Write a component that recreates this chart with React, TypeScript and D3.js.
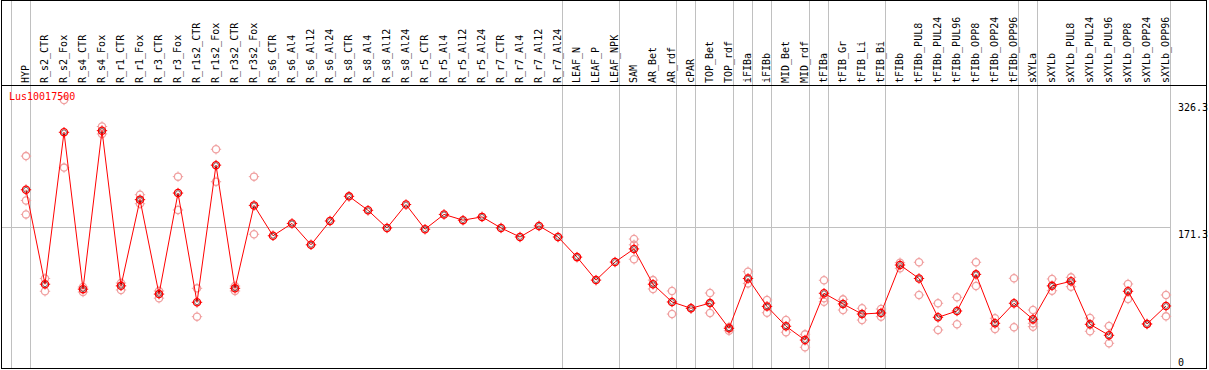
import React from "react";
import * as d3 from "d3";

const categories = [
  "HYP", "R_s2_CTR", "R_s2_Fox", "R_s4_CTR", "R_s4_Fox", "R_r1_CTR", "R_r1_Fox", "R_r3_CTR", "R_r3_Fox",
  "R_r1s2_CTR", "R_r1s2_Fox", "R_r3s2_CTR", "R_r3s2_Fox", "R_s6_CTR", "R_s6_Al4", "R_s6_Al12", "R_s6_Al24",
  "R_s8_CTR", "R_s8_Al4", "R_s8_Al12", "R_s8_Al24", "R_r5_CTR", "R_r5_Al4", "R_r5_Al12", "R_r5_Al24",
  "R_r7_CTR", "R_r7_Al4", "R_r7_Al12", "R_r7_Al24", "LEAF_N", "LEAF_P", "LEAF_NPK", "SAM", "AR_Bet", "AR_rdf",
  "cPAR", "TOP_Bet", "TOP_rdf", "iFIBa", "iFIBb", "MID_Bet", "MID_rdf", "tFIBa", "tFIB_Gr", "tFIB_Li", "tFIB_Bi",
  "tFIBb", "tFIBb_PUL8", "tFIBb_PUL24", "tFIBb_PUL96", "tFIBb_OPP8", "tFIBb_OPP24", "tFIBb_OPP96",
  "sXYLa", "sXYLb", "sXYLb_PUL8", "sXYLb_PUL24", "sXYLb_PUL96", "sXYLb_OPP8", "sXYLb_OPP24", "sXYLb_OPP96",
];

const means = [
  217, 102, 287, 96, 289, 100, 205, 90, 213,
  80, 247, 97, 198, 161, 176, 150, 179,
  209, 192, 170.5, 199, 169, 187, 180, 184,
  170.5, 159.5, 173, 159.5, 135, 107, 129, 145, 102, 80.4,
  72.7, 79, 48.3, 109, 75, 50.8, 34, 91, 78, 65.7, 67,
  125.4, 109, 61.7, 69.4, 114, 54.4, 78.8,
  59.3, 100, 105.6, 53.2, 39.8, 93.4, 53.6, 75.5,
];

const reps: number[][] = [
  [258, 204, 187], [109, 93.4], [326.3, 244], [98.6, 92.5], [294, 285], [103.5, 95], [211, 200], [93.8, 85], [233, 192.4],
  [97, 62.5], [266.3, 226.8], [99.8, 93.8], [233, 162.8], [], [], [], [],
  [], [], [], [], [], [], [], [],
  [], [], [], [], [], [], [], [157, 150, 132.4], [107, 96.2], [93.8, 65.7],
  [72.7], [91.3, 67], [45.4, 49.9], [117.3, 103], [82.8, 67.3], [58.4, 43.5], [41, 25.2], [106.8, 84.9, 80.7], [83.6, 70.6], [72.7, 58.4], [71.8, 62.5],
  [128.2, 121.4], [128.7, 88.9], [78.8, 46.3], [86.1, 53.2], [128.7, 99.8], [60.5, 47.5], [109.2, 49.6],
  [70.6, 54.4, 50.3], [108.4, 94.1], [110.4, 99], [60.9, 44.7], [51.1, 30.1], [102.3, 84], [53.6], [88.9, 62.9],
];

// group separators: index of first category of each group (plus end)
const groupBoundaries = [0, 1, 29, 32, 35, 36, 38, 39, 40, 42, 43, 46, 53, 54, 61];

const yTicks = [326.3, 171.3, 0];
const geneLabel = "Lus10017500";

const FONT = "'DejaVu Sans Mono', monospace";

function Marker({ x, y, color, inner }: { x: number; y: number; color: string; inner?: boolean }) {
  const r = 3.6;
  const t = 1.6;
  return (
    <g>
      <circle cx={x} cy={y} r={r} fill="none" stroke={color} strokeWidth={1.3} />
      {inner && <circle cx={x} cy={y} r={2.4} fill="none" stroke="#300000" strokeWidth={0.6} />}
      <line x1={x} y1={y - r} x2={x} y2={y - r - t} stroke={color} strokeWidth={1} />
      <line x1={x} y1={y + r} x2={x} y2={y + r + t} stroke={color} strokeWidth={1} />
      <line x1={x - r} y1={y} x2={x - r - t} y2={y} stroke={color} strokeWidth={1} />
      <line x1={x + r} y1={y} x2={x + r + t} y2={y} stroke={color} strokeWidth={1} />
    </g>
  );
}

export default function App() {
  const W = 1209, H = 370;
  const x = d3.scaleLinear().domain([0, categories.length - 1]).range([26, 26 + 19 * (categories.length - 1)]);
  const y = d3.scaleLinear().domain([0, 326.3]).range([368, 100]);
  const line = d3.line<number>().x((_, i) => x(i)).y((d) => y(d));
  const gridX = (k: number) => Math.round(x(k) - 15) + 0.5;
  const rightX = gridX(categories.length);
  const gy = Math.round(y(171.3)) + 0.5;

  return (
    <svg width={W} height={H} style={{ position: "absolute", left: 0, top: 0, background: "#fff" }}>
      <rect x={0} y={0} width={W} height={H} fill="#fff" />
      {groupBoundaries.map((k) => (
        <line key={k} x1={gridX(k)} x2={gridX(k)} y1={0} y2={368} stroke="#c0c0c0" strokeWidth={1} />
      ))}
      <line x1={2} x2={rightX} y1={gy} y2={gy} stroke="#c0c0c0" strokeWidth={1} />
      <rect x={1.5} y={0.5} width={1205} height={368} fill="none" stroke="#000" strokeWidth={1} />
      <line x1={1.5} x2={1206.5} y1={85.5} y2={85.5} stroke="#000" strokeWidth={1} />
      {categories.map((c, i) => (
        <text
          key={c}
          transform={`translate(${x(i) + 3},83) rotate(-90)`}
          fontFamily={FONT}
          fontSize={10}
          fill="#000"
        >
          {c}
        </text>
      ))}
      {yTicks.map((v) => (
        <text
          key={v}
          x={1178}
          y={v === 0 ? 366 : y(v) + 11}
          fontFamily={FONT}
          fontSize={10}
          fill="#000"
        >
          {v}
        </text>
      ))}
      {reps.map((rs, i) =>
        rs.map((v, j) => <Marker key={`${i}-${j}`} x={x(i)} y={y(v)} color="#f0a0a0" />)
      )}
      <text x={9} y={100} fontFamily={FONT} fontSize={10} fill="#ff0000">
        {geneLabel}
      </text>
      <path d={line(means) || ""} fill="none" stroke="#ff0000" strokeWidth={1} />
      {means.map((v, i) => (
        <Marker key={i} x={x(i)} y={y(v)} color="#ff0000" inner />
      ))}
    </svg>
  );
}
